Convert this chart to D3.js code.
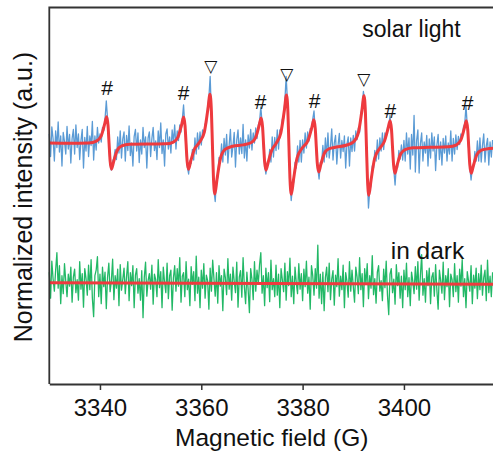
<!DOCTYPE html>
<html>
<head>
<meta charset="utf-8">
<script src="https://cdn.jsdelivr.net/npm/d3@7"></script>
<style>
  body { margin: 0; background: #fff; }
  svg { display: block; }
  text { font-family: "Liberation Sans", Arial, Helvetica, sans-serif; fill: #111; }
</style>
</head>
<body>
<svg id="chart" width="493" height="452"></svg>
<script>
// Field sweep of the recorded spectra (G)
const fieldStart = 3330;
const fieldStep = 0.25;

// Recorded spectrum under solar light, one value per 0.25 G from 3330 G
const solarSignal = [
  0.18, -0.27, 0.32, 0.08, -0.36, 0.24, -0.09, 0.42, -0.18, 0.14, -0.46, 0.21, 0.03, -0.22, 0.33, -0.12, 0.17, -0.40, 0.09, 0.27,
  -0.22, 0.36, -0.09, 0.18, -0.33, 0.05, 0.27, -0.50, 0.11, -0.16, 0.33, -0.27, 0.14, -0.05, 0.43, -0.34, 0.14, -0.14, 0.31, 0.00,
  0.18, 0.02, 0.31, 0.25, 0.48, 0.84, 0.48, -0.01, -0.43, -0.54, -0.37, -0.30, -0.13, -0.33, 0.12, -0.20, 0.24, -0.30, 0.08, 0.22,
  -0.36, 0.15, -0.15, 0.34, -0.25, 0.00, -0.46, 0.13, 0.27, -0.16, 0.20, -0.39, 0.06, -0.22, 0.31, -0.09, 0.12, -0.50, 0.10, 0.22,
  -0.27, 0.09, 0.31, -0.15, 0.04, -0.33, 0.24, -0.09, 0.40, -0.21, 0.06, -0.46, 0.18, 0.28, -0.12, 0.12, -0.20, 0.26, 0.02, 0.36,
  -0.12, 0.24, 0.05, 0.36, 0.22, 0.47, 0.76, 0.34, -0.15, -0.48, -0.62, -0.36, -0.41, -0.13, -0.34, 0.10, -0.22, 0.20, -0.12, 0.22,
  -0.04, 0.26, 0.16, 0.38, 0.37, 0.72, 0.91, 1.33, 0.59, -0.17, -0.95, -1.17, -0.74, -0.70, -0.29, -0.40, -0.02, -0.38, 0.09, -0.24,
  0.17, -0.40, -0.04, 0.27, -0.28, -0.07, 0.21, -0.48, 0.06, 0.26, -0.22, 0.10, -0.21, 0.37, -0.30, 0.06, -0.36, 0.16, -0.10, 0.27,
  -0.14, 0.20, 0.00, 0.30, 0.09, 0.36, 0.43, 0.72, 0.40, -0.07, -0.44, -0.62, -0.45, -0.44, -0.13, -0.38, 0.12, -0.28, 0.11, -0.15,
  0.26, -0.12, 0.26, 0.19, 0.48, 0.49, 0.85, 1.33, 0.85, 0.04, -0.76, -1.15, -0.87, -0.78, -0.39, -0.50, -0.06, -0.38, 0.05, -0.38,
  0.06, -0.20, 0.20, -0.10, 0.22, 0.04, 0.29, 0.24, 0.48, 0.64, 0.23, -0.25, -0.50, -0.72, -0.39, -0.40, -0.05, -0.38, 0.10, -0.28,
  0.20, -0.30, -0.07, 0.28, -0.34, 0.00, 0.15, -0.42, -0.04, 0.19, -0.30, 0.05, -0.17, 0.14, -0.50, -0.02, 0.12, -0.46, 0.10, -0.17,
  0.15, -0.16, 0.24, 0.07, 0.30, 0.21, 0.58, 0.73, 1.03, 0.83, 0.22, -0.66, -1.30, -0.95, -0.84, -0.46, -0.50, -0.15, -0.36, 0.06,
  -0.32, 0.10, -0.16, 0.20, -0.13, 0.20, 0.11, 0.31, 0.32, 0.55, 0.28, -0.14, -0.53, -0.84, -0.46, -0.49, -0.15, -0.32, -0.04, -0.34,
  0.05, -0.36, 0.20, -0.22, 0.10, -0.52, 0.17, -0.24, 0.55, -0.58, 0.05, 0.26, -0.60, -0.01, 0.20, -0.36, 0.02, -0.20, 0.15, -0.46,
  0.08, -0.30, 0.20, -0.16, 0.12, -0.55, -0.04, 0.17, -0.33, 0.02, -0.44, 0.09, -0.20, 0.14, -0.36, 0.00, -0.22, 0.24, -0.36, 0.09,
  -0.22, 0.16, -0.13, 0.13, -0.03, 0.18, 0.10, 0.32, 0.38, 0.74, 0.35, -0.08, -0.48, -0.74, -0.50, -0.48, -0.17, -0.36, 0.04, -0.36,
  0.10, -0.38, -0.05, 0.18, -0.38, -0.06, 0.09, -0.44, 0.02, -0.28, 0.06
];

// Recorded spectrum in the dark, same sweep
const darkSignal = [
  0.21, -0.31, 0.43, 0.07, -0.17, 0.25, 0.60, -0.11, 0.34, -0.42, 0.14, -0.22, 0.38, 0.03, -0.28, 0.17, -0.07, 0.31, -0.39, 0.11,
  0.27, -0.20, 0.06, -0.35, 0.42, -0.13, 0.18, -0.49, 0.28, 0.08, -0.25, 0.35, -0.14, 0.46, -0.31, -0.68, 0.14, 0.25, 0.52, -0.28,
  0.17, -0.42, 0.31, -0.08, 0.21, -0.52, 0.11, 0.39, -0.18, 0.03, 0.47, -0.34, 0.14, -0.11, 0.27, -0.46, 0.36, -0.15, 0.06, 0.29,
  -0.22, 0.13, 0.42, -0.36, 0.20, -0.06, 0.34, -0.50, 0.15, 0.28, -0.21, 0.08, -0.35, 0.24, -0.70, 0.11, 0.41, -0.27, 0.04, 0.18,
  -0.13, 0.35, -0.43, 0.17, 0.06, -0.28, 0.46, -0.10, 0.22, -0.50, 0.31, 0.01, -0.20, 0.39, -0.32, 0.14, 0.25, -0.55, 0.10, 0.34,
  -0.17, 0.28, -0.07, 0.50, -0.39, 0.13, 0.20, -0.28, 0.42, -0.14, 0.07, -0.46, 0.32, -0.03, 0.22, -0.36, 0.53, -0.21, 0.11, -0.50,
  0.25, -0.11, 0.38, -0.31, 0.15, 0.04, -0.53, 0.29, -0.17, 0.45, 0.08, -0.27, 0.20, -0.41, 0.34, -0.07, 0.14, -0.56, 0.27, 0.10,
  -0.24, 0.48, -0.13, 0.17, -0.35, 0.31, 0.03, -0.20, 0.41, -0.49, 0.11, 0.24, -0.29, 0.50, -0.08, -0.42, 0.21, -0.14, -0.60, 0.28,
  0.07, -0.34, 0.42, -0.17, 0.25, -0.03, 0.36, 0.60, -0.21, 0.14, -0.46, 0.29, -0.10, 0.20, -0.38, 0.45, -0.14, 0.08, -0.28, 0.35,
  -0.25, 0.17, -0.50, 0.28, 0.06, -0.18, 0.39, -0.35, 0.22, -0.06, 0.49, -0.28, 0.13, -0.42, 0.31, 0.00, -0.22, 0.38, -0.13, 0.18,
  -0.36, 0.27, -0.08, 0.43, -0.21, 0.11, -0.53, 0.34, 0.14, -0.25, 0.28, -0.11, 0.75, -0.31, 0.17, -0.42, 0.21, -0.56, 0.10, 0.31,
  -0.18, 0.39, -0.34, 0.07, 0.24, -0.45, 0.15, -0.08, 0.48, -0.27, 0.13, -0.14, 0.35, -0.50, 0.20, 0.03, -0.29, 0.42, -0.17, 0.25,
  -0.07, -0.39, 0.31, 0.11, -0.22, 0.50, -0.14, 0.18, -0.48, 0.28, -0.03, 0.38, -0.32, 0.14, -0.11, 0.54, -0.24, 0.08, -0.41, 0.21,
  0.34, -0.17, 0.04, -0.36, 0.27, -0.10, 0.43, -0.25, -0.64, 0.17, 0.28, -0.20, 0.07, -0.43, 0.36, -0.06, 0.20, -0.31, 0.13, -0.50,
  0.25, -0.14, 0.39, -0.28, 0.10, -0.46, 0.21, 0.03, -0.22, 0.32, -0.13, 0.42, -0.35, 0.15, 0.56, -0.25, 0.08, -0.39, 0.24, -0.06,
  0.29, -0.42, 0.11, 0.20, -0.27, 0.36, -0.15, -0.53, 0.25, 0.04, -0.21, 0.41, -0.34, 0.14, -0.08, 0.28, -0.48, 0.17, 0.06, -0.28,
  0.38, -0.18, 0.14, -0.39, 0.27, -0.07, 0.46, -0.28, 0.08, -0.50, 0.22, 0.03, -0.17, 0.34, -0.42, 0.15, -0.11, 0.29, -0.32, 0.18,
  -0.14, 0.35, -0.25, 0.10, 0.25, -0.36, 0.45, -0.20, 0.13, -0.28, 0.21
];

// Simulated (fitted) spectrum under solar light: [field (G), intensity]
const solarFit = [
  [3330, 0], [3334, -0.005],
  [3337.8, 0.001], [3339.3, 0.037], [3340.2, 0.131], [3340.9, 0.367], [3341.32, 0.527], [3341.6, 0.345], [3341.8, -0.013],
  [3342.0, -0.351], [3342.28, -0.523], [3342.7, -0.373], [3343.4, -0.149], [3344.3, -0.059], [3345.8, -0.025],
  [3349.5, -0.022],
  [3353.0, -0.017], [3354.5, 0.019], [3355.4, 0.119], [3356.1, 0.357], [3356.52, 0.519], [3356.8, 0.337], [3357.0, -0.019],
  [3357.2, -0.357], [3357.48, -0.527], [3357.9, -0.369], [3358.6, -0.134], [3359.6, 0.008],
  [3360.6, 0.218], [3361.3, 0.673], [3361.72, 0.975], [3362.0, 0.633], [3362.2, -0.043], [3362.4, -0.693], [3362.68, -1.021],
  [3363.1, -0.728], [3363.8, -0.3], [3364.7, -0.129], [3366.2, -0.065],
  [3368.3, -0.037], [3369.8, 0.004], [3370.7, 0.103], [3371.4, 0.341], [3371.82, 0.502], [3372.1, 0.32], [3372.3, -0.036],
  [3372.5, -0.372], [3372.78, -0.543], [3373.2, -0.385], [3373.9, -0.146], [3374.8, -0.003],
  [3375.7, 0.2], [3376.4, 0.655], [3376.82, 0.959], [3377.1, 0.616], [3377.3, -0.054], [3377.5, -0.704], [3377.78, -1.026],
  [3378.2, -0.735], [3378.9, -0.301], [3380.0, -0.091],
  [3381.1, 0.058], [3381.8, 0.303], [3382.22, 0.467], [3382.5, 0.286], [3382.7, -0.07], [3382.9, -0.408], [3383.18, -0.58],
  [3383.6, -0.429], [3384.3, -0.204], [3385.2, -0.115], [3386.7, -0.081],
  [3388.6, -0.045], [3390.1, 0.026], [3391.0, 0.201], [3391.7, 0.646], [3392.12, 0.946], [3392.4, 0.601], [3392.6, -0.065],
  [3392.8, -0.715], [3393.08, -1.043], [3393.5, -0.75], [3394.2, -0.315], [3395.2, -0.108],
  [3396.15, 0.035], [3396.85, 0.284], [3397.27, 0.447], [3397.55, 0.267], [3397.75, -0.089], [3397.95, -0.426],
  [3398.23, -0.604], [3398.65, -0.446], [3399.35, -0.221], [3400.25, -0.132], [3401.75, -0.096],
  [3405.0, -0.086],
  [3408.8, -0.077], [3410.3, -0.042], [3411.2, 0.051], [3411.9, 0.286], [3412.32, 0.446], [3412.6, 0.263], [3412.8, -0.095],
  [3413.0, -0.433], [3413.28, -0.605], [3413.7, -0.456], [3414.4, -0.233], [3415.3, -0.144], [3416.8, -0.112], [3417.6, -0.105]
];

// Fitted baseline in the dark: [field (G), intensity]
const darkFit = [[3330, 0], [3417.6, -0.032]];

// Axis ticks (G)
const tickValues = [3340, 3360, 3380, 3400];

// Line assignments above the solar-light spectrum
const markerField = [3341.4, 3356.5, 3361.9, 3371.7, 3376.9, 3382.35, 3392.1, 3397.3, 3412.55];
const markerSymbol = ["#", "#", "\u25BD", "#", "\u25BD", "#", "\u25BD", "#", "#"];
const markerLevel = [0.96, 0.87, 1.43, 0.69, 1.26, 0.70, 1.16, 0.51, 0.66];

// ---- layout ----
const W = 493, H = 452;
const plot = { left: 49.3, right: 493.1, top: 7.5, bottom: 384 };
const solarOffset = 4.82;   // vertical stacking of the two spectra
const darkOffset = 2.026;

const colors = { solar: "#5b9bd5", dark: "#22b866", fit: "#ee3a3e", axis: "#333" };

const svg = d3.select("#chart");

const x = d3.scaleLinear().domain([3330, 3417.6]).range([plot.left, plot.right]);
const y = d3.scaleLinear().domain([0, 7.68]).range([plot.bottom, 0]);

const traceLine = offset => d3.line()
  .x((d, i) => x(fieldStart + i * fieldStep))
  .y(d => y(d + offset));

const fitLine = offset => d3.line()
  .x(d => x(d[0]))
  .y(d => y(d[1] + offset))
  .curve(d3.curveMonotoneX);

// spectra
svg.append("path")
  .datum(solarSignal)
  .attr("d", traceLine(solarOffset))
  .attr("fill", "none")
  .attr("stroke", colors.solar)
  .attr("stroke-width", 1.3)
  .attr("stroke-linejoin", "round");

svg.append("path")
  .datum(darkSignal)
  .attr("d", traceLine(darkOffset))
  .attr("fill", "none")
  .attr("stroke", colors.dark)
  .attr("stroke-width", 1.3)
  .attr("stroke-linejoin", "round");

// fits
svg.append("path")
  .datum(solarFit)
  .attr("d", fitLine(solarOffset))
  .attr("fill", "none")
  .attr("stroke", colors.fit)
  .attr("stroke-width", 3)
  .attr("stroke-linejoin", "round");

svg.append("path")
  .datum(darkFit)
  .attr("d", fitLine(darkOffset))
  .attr("fill", "none")
  .attr("stroke", colors.fit)
  .attr("stroke-width", 3);

// line markers
svg.append("g")
  .selectAll("text")
  .data(markerField.map((f, i) => ({ f, s: markerSymbol[i], v: markerLevel[i] })))
  .join("text")
  .attr("x", d => x(d.f))
  .attr("y", d => y(d.v + solarOffset))
  .attr("text-anchor", "middle")
  .style("font-family", d => d.s === "#" ? "\"Liberation Sans\", Arial, sans-serif" : "\"DejaVu Sans\", sans-serif")
  .style("font-size", d => d.s === "#" ? "21px" : "17px")
  .text(d => d.s);

// frame: left and top spines
svg.append("path")
  .attr("d", `M${plot.left},${plot.bottom}V${plot.top}H${W + 5}`)
  .attr("fill", "none")
  .attr("stroke", colors.axis)
  .attr("stroke-width", 1.8);

// bottom axis
const xAxis = svg.append("g")
  .attr("transform", `translate(0,${plot.bottom})`)
  .call(d3.axisBottom(x).tickValues(tickValues).tickSize(6).tickSizeOuter(0).tickFormat(d3.format("d")));
xAxis.select(".domain").attr("stroke", colors.axis).attr("stroke-width", 1.8);
xAxis.selectAll(".tick line").attr("stroke", colors.axis).attr("stroke-width", 1.5);
xAxis.selectAll(".tick text")
  .attr("y", 32).attr("dy", 0)
  .style("font-size", "24px")
  .style("font-family", "\"Liberation Sans\", Arial, sans-serif")
  .attr("fill", "#111");

// axis titles
svg.append("text")
  .attr("x", 271.7).attr("y", 446)
  .attr("text-anchor", "middle")
  .style("font-size", "24.5px")
  .text("Magnetic field (G)");

svg.append("text")
  .attr("transform", "translate(31.5,197) rotate(-90)")
  .attr("text-anchor", "middle")
  .style("font-size", "25px")
  .text("Normalized intensity (a.u.)");

// trace labels
svg.append("text")
  .attr("x", 411.5).attr("y", 37)
  .attr("text-anchor", "middle")
  .style("font-size", "23px")
  .text("solar light");

svg.append("text")
  .attr("x", 427.5).attr("y", 259)
  .attr("text-anchor", "middle")
  .style("font-size", "24.5px")
  .text("in dark");
</script>
</body>
</html>
